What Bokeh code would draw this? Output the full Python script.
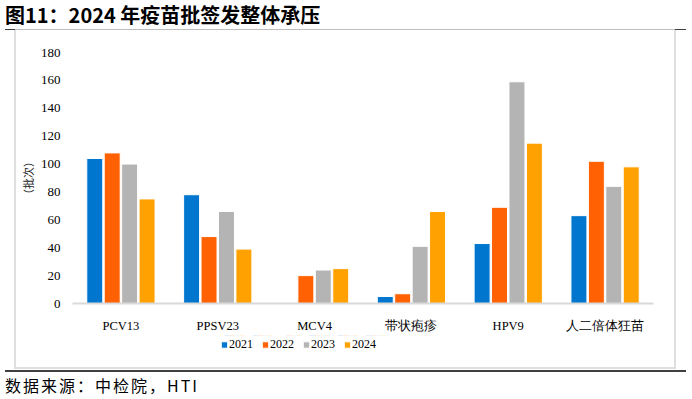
from bokeh.plotting import figure
from bokeh.models import (FactorRange, Range1d, FixedTicker, ColumnDataSource,
                          Legend, LegendItem, Div, Spacer)
from bokeh.layouts import column, row
from bokeh.transform import dodge
from bokeh.embed import file_html
from bokeh.resources import INLINE

categories = ["PCV13", "PPSV23", "MCV4", "带状疱疹", "HPV9", "人二倍体狂苗"]
years = ["2021", "2022", "2023", "2024"]
v2021 = [104, 78, float("nan"), 5, 43, 63]
v2022 = [108, 48, 20, 7, 69, 102]
v2023 = [100, 66, 24, 41, 159, 84]
v2024 = [75, 39, 25, 66, 115, 98]
y_ticks = [0, 20, 40, 60, 80, 100, 120, 140, 160, 180]

title_text = "图11：2024 年疫苗批签发整体承压"
source_text = "数据来源：中检院，HTI"
y_label = "（批次）"

colors = ["#0076CF", "#FF6103", "#B4B4B4", "#FFA100"]
offsets = [-0.27, -0.09, 0.09, 0.27]

src = ColumnDataSource(dict(cat=categories, y2021=v2021, y2022=v2022, y2023=v2023, y2024=v2024))

serif = "Liberation Serif"
TOTAL_W = 692

# ---- main chart ----
FW, FH = 658, 337
PH = 305
p = figure(x_range=FactorRange(*categories), y_range=Range1d(0, 180),
           width=FW, height=PH, sizing_mode="fixed", output_backend="svg", toolbar_location=None,
           min_border_left=54, min_border_right=21, min_border_top=22, min_border_bottom=29,
           background_fill_color="white", border_fill_color="white")
p.outline_line_color = None
p.xgrid.visible = False
p.ygrid.visible = False

p.yaxis.ticker = FixedTicker(ticks=y_ticks)
p.yaxis.axis_line_color = None
p.yaxis.major_tick_line_color = None
p.yaxis.minor_tick_line_color = None
p.yaxis.major_tick_out = 0
p.yaxis.major_tick_in = 0
p.yaxis.minor_tick_out = 0
p.yaxis.major_label_text_font = serif
p.yaxis.major_label_text_font_size = "13px"
p.yaxis.major_label_text_color = "#000000"
p.yaxis.major_label_standoff = 12
p.yaxis.axis_label = y_label
p.yaxis.axis_label_text_font = "Noto Sans CJK SC"
p.yaxis.axis_label_text_font_style = "normal"
p.yaxis.axis_label_text_font_size = "11px"
p.yaxis.axis_label_text_color = "#222222"
p.yaxis.axis_label_standoff = 2

p.xaxis.axis_line_color = "#D9D9D9"
p.xaxis.axis_line_width = 2
p.xaxis.major_tick_line_color = None
p.xaxis.minor_tick_line_color = None
p.xaxis.major_tick_out = 0
p.xaxis.major_tick_in = 0
p.xaxis.minor_tick_out = 0
p.xaxis.major_label_text_font = serif
p.xaxis.major_label_text_font_size = "12.5px"
p.xaxis.major_label_text_color = "#000000"
p.xaxis.major_label_standoff = 15

for yr, col, off in zip(years, colors, offsets):
    p.vbar(x=dodge("cat", off, range=p.x_range), top="y" + yr, width=0.165,
           source=src, fill_color=col, line_color="white", line_width=1)

# ---- legend strip: same series, drawn outside its visible range so only the key shows ----
LW, LH = 170, 18
lg = figure(x_range=FactorRange(*categories), y_range=Range1d(-2, -1),
            width=LW, height=LH, sizing_mode="fixed", output_backend="svg", toolbar_location=None,
            x_axis_location=None, y_axis_location=None, min_border=0,
            background_fill_color="white", border_fill_color="white")
lg.outline_line_color = None
lg.xgrid.visible = False
lg.ygrid.visible = False
items = []
for yr, col, off in zip(years, colors, offsets):
    r = lg.vbar(x=dodge("cat", off, range=lg.x_range), top="y" + yr, width=0.165,
                source=src, fill_color=col, line_color="white", line_width=1)
    items.append(LegendItem(label=yr, renderers=[r]))
legend = Legend(items=items, orientation="horizontal", location="left",
                border_line_color=None, background_fill_alpha=0,
                glyph_width=8, glyph_height=8, label_standoff=1, spacing=8,
                padding=0, margin=0, label_height=12,
                label_text_font=serif, label_text_font_size="12px", label_text_color="#000000")
lg.add_layout(legend, "center")

def line(w, h, c):
    return Spacer(width=w, height=h, background=c, margin=0, sizing_mode="fixed")

def gap(w, h):
    return Spacer(width=w, height=h, margin=0, sizing_mode="fixed")

title_div = Div(text=title_text, width=TOTAL_W, height=29, margin=0, sizing_mode="fixed",
                styles={"font-family": "'Noto Sans CJK SC'", "font-weight": "bold",
                        "font-size": "20px", "line-height": "29px", "padding-left": "5px",
                        "color": "#000000", "white-space": "nowrap"})
source_div = Div(text=source_text, width=TOTAL_W, height=27, margin=0, sizing_mode="fixed",
                 styles={"font-family": "'Noto Sans CJK SC'", "font-size": "16px",
                         "letter-spacing": "2px", "line-height": "27px", "padding-left": "5px",
                         "color": "#000000", "white-space": "nowrap"})

GRAY = "#BDBDBD"
DARK = "#404040"
BOX = "#DEDEDE"

inner = column(
    p,
    row(gap(204, LH), lg, gap(FW - 204 - LW, LH), spacing=0),
    gap(FW, FH - PH - LH),
    spacing=0,
)

layout = column(
    title_div,
    row(gap(5, 1), line(10, 1, DARK), line(660, 1, GRAY), line(11, 1, DARK), gap(6, 1), spacing=0),
    row(gap(14, FH), line(2, FH, BOX), inner, line(2, FH, BOX), gap(16, FH), spacing=0),
    row(gap(14, 2), line(662, 2, BOX), gap(16, 2), spacing=0),
    gap(TOTAL_W, 1),
    row(gap(5, 2), line(681, 2, DARK), gap(6, 2), spacing=0),
    source_div,
    spacing=0,
)

open("out.html", "w").write(file_html(layout, INLINE))
